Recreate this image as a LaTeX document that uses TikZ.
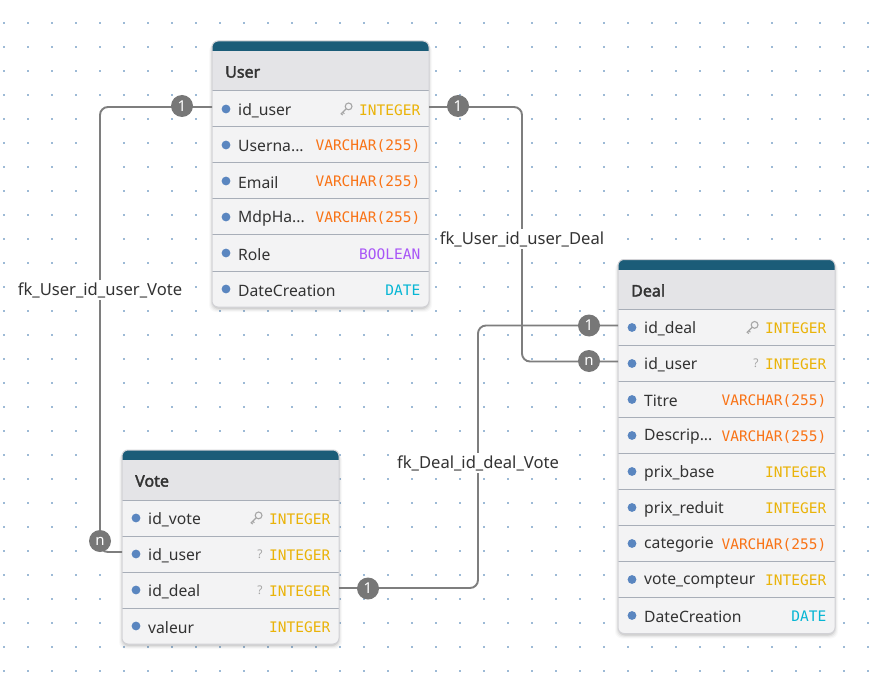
\documentclass[tikz,border=0pt]{standalone}
\usepackage{fontspec}
\setmainfont{Noto Sans}[AutoFakeBold=2.5]
\newfontfamily\typefont{DejaVu Sans Mono}
\newfontfamily\titlefont{Noto Sans}[FakeBold=2.2]

\definecolor{dotc}{HTML}{9DBAD6}
\definecolor{headbg}{HTML}{1B5C78}
\definecolor{titlebg}{HTML}{E4E4E7}
\definecolor{rowbg}{HTML}{F3F3F4}
\definecolor{sepc}{HTML}{A8AEB8}
\definecolor{borderc}{HTML}{D2D2D6}
\definecolor{bulletc}{HTML}{5A86C0}
\definecolor{ink}{HTML}{333333}
\definecolor{linec}{HTML}{7E7E7E}
\definecolor{markc}{HTML}{777777}
\definecolor{iconc}{HTML}{A6A6A6}
\definecolor{tint}{HTML}{EAB308}
\definecolor{tvarchar}{HTML}{F97316}
\definecolor{tbool}{HTML}{A855F7}
\definecolor{tdate}{HTML}{06B6D4}

\tikzset{
  fieldname/.style={anchor=west, text=ink, inner sep=0pt, font=\fontsize{15.7}{18}\selectfont},
  fieldtype/.style={anchor=east, inner sep=0pt, font=\typefont\fontsize{14.5}{18}\selectfont},
  titletext/.style={anchor=west, text=ink, inner sep=0pt, font=\titlefont\fontsize{16}{18}\selectfont},
  nullmark/.style={anchor=center, text=iconc, inner sep=0pt, font=\fontsize{12}{14}\selectfont},
  conn/.style={draw=linec, line width=1.9pt, rounded corners=8pt},
  cardmark/.style={circle, fill=markc, text=white, minimum size=22pt, inner sep=0pt,
                   font=\fontsize{15}{16}\selectfont},
  fklabel/.style={fill=white, text=ink, inner sep=2pt, font=\fontsize{16.6}{18}\selectfont},
}

% Card frame: #1 name, #2 title, #3 number of rows (drawn inside a shifted scope)
\newcommand\entitybox[3]{%
  \pgfmathsetmacro\entH{50+36*#3}%
  \foreach \s/\o in {4/0.025,3/0.035,2/0.05,1/0.07}
    \fill[black, opacity=\o, rounded corners=7pt] (-\s+1,\s-1) rectangle (217+\s-1,\entH+\s+1);
  \fill[rowbg, rounded corners=6pt] (0,0) rectangle (217,\entH);
  \begin{scope}
    \clip[rounded corners=6pt] (0,0) rectangle (217,\entH);
    \fill[headbg] (0,0) rectangle (217,10);
    \fill[titlebg] (0,10) rectangle (217,50);
  \end{scope}
  \foreach \i in {1,...,#3}
    \draw[sepc, line width=1pt] (0,14+36*\i) -- (217,14+36*\i);
  \draw[borderc, line width=1pt, rounded corners=6pt] (0,0) rectangle (217,\entH);
  \node[titletext] (#1-title) at (13,31) {#2};
}

\def\iconnone#1{}
\def\iconkey#1{%
  \begin{scope}[shift={(134,#1)}, iconc, line width=1.1pt]
    \draw (2.6,-2.6) circle (3.4);
    \draw (0.2,-0.2) -- (-5.2,5.2);
    \draw (-3.2,3.2) -- (-1.6,4.8);
    \draw (-4.7,4.7) -- (-3.3,6.1);
  \end{scope}}
\def\iconnull#1{\node[nullmark] at (138,#1) {?};}

% One field row: #1 card name, #2 row index, #3 field, #4 type, #5 type colour, #6 icon
\newcommand\entityrow[6]{%
  \pgfmathsetmacro\ry{32+36*#2}%
  \fill[bulletc] (14,\ry) circle (4.4);
  \node[fieldname] (#1-#2-name) at (26,\ry+1.5) {#3};
  \node[fieldtype, text=#5] (#1-#2-type) at (208.5,\ry+1) {#4};
  \csname icon#6\endcsname{\ry}%
  \coordinate (#1-#2-w) at (0,\ry-2);
  \coordinate (#1-#2-e) at (217,\ry-2);
}

\begin{document}
\begin{tikzpicture}[x=1pt, y=-1pt]
  \useasboundingbox (0,0) rectangle (877,676);
  \fill[white] (0,0) rectangle (877,676);

  % dotted canvas
  \foreach \i in {0,...,36}
    \foreach \j in {0,...,27}
      \fill[dotc] (3+24*\i,22+24*\j) rectangle ++(2,2);

  % bend columns of the relationship paths
  \coordinate (voteBend) at (100,0);
  \coordinate (dealBend) at (522,0);
  \coordinate (voteDealBend) at (478,0);

  % tables
  \begin{scope}[shift={(212,41)}]
    \entitybox{user}{User}{6}
    \entityrow{user}{1}{id\_user}{INTEGER}{tint}{key}
    \entityrow{user}{2}{Userna...}{VARCHAR(255)}{tvarchar}{none}
    \entityrow{user}{3}{Email}{VARCHAR(255)}{tvarchar}{none}
    \entityrow{user}{4}{MdpHa...}{VARCHAR(255)}{tvarchar}{none}
    \entityrow{user}{5}{Role}{BOOLEAN}{tbool}{none}
    \entityrow{user}{6}{DateCreation}{DATE}{tdate}{none}
  \end{scope}

  \begin{scope}[shift={(618,259.5)}]
    \entitybox{deal}{Deal}{9}
    \entityrow{deal}{1}{id\_deal}{INTEGER}{tint}{key}
    \entityrow{deal}{2}{id\_user}{INTEGER}{tint}{null}
    \entityrow{deal}{3}{Titre}{VARCHAR(255)}{tvarchar}{none}
    \entityrow{deal}{4}{Descrip...}{VARCHAR(255)}{tvarchar}{none}
    \entityrow{deal}{5}{prix\_base}{INTEGER}{tint}{none}
    \entityrow{deal}{6}{prix\_reduit}{INTEGER}{tint}{none}
    \entityrow{deal}{7}{categorie}{VARCHAR(255)}{tvarchar}{none}
    \entityrow{deal}{8}{vote\_compteur}{INTEGER}{tint}{none}
    \entityrow{deal}{9}{DateCreation}{DATE}{tdate}{none}
  \end{scope}

  \begin{scope}[shift={(122,450)}]
    \entitybox{vote}{Vote}{4}
    \entityrow{vote}{1}{id\_vote}{INTEGER}{tint}{key}
    \entityrow{vote}{2}{id\_user}{INTEGER}{tint}{null}
    \entityrow{vote}{3}{id\_deal}{INTEGER}{tint}{null}
    \entityrow{vote}{4}{valeur}{INTEGER}{tint}{none}
  \end{scope}

  % connectors
  \draw[conn] (user-1-w) -| (voteBend |- vote-2-w) -- (vote-2-w);
  \draw[conn] (user-1-e) -| (dealBend |- deal-2-w) -- (deal-2-w);
  \draw[conn] (vote-3-e) -| (voteDealBend |- deal-1-w) -- (deal-1-w);

  % cardinality markers
  \node[cardmark] (mUserVote) at (182,106) {1};
  \node[cardmark] (mVoteUser) at (100,541) {n};
  \node[cardmark] (mUserDeal) at (458,106) {1};
  \node[cardmark] (mDealUser) at (589,361) {n};
  \node[cardmark] (mVoteDeal) at (368,588.5) {1};
  \node[cardmark] (mDealVote) at (589,325.5) {1};

  % foreign key labels
  \node[fklabel] (lUserVote) at (100,290) {fk\_User\_id\_user\_Vote};
  \node[fklabel] (lUserDeal) at (522,239) {fk\_User\_id\_user\_Deal};
  \node[fklabel] (lDealVote) at (478,463) {fk\_Deal\_id\_deal\_Vote};
\end{tikzpicture}
\end{document}
